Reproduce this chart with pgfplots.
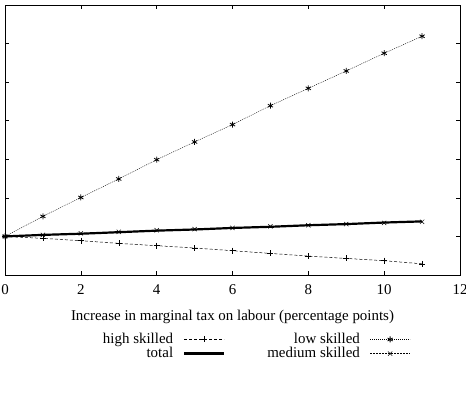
\documentclass[border=0pt]{standalone}
\usepackage{fontspec}
\setmainfont{Liberation Serif}
\usepackage{pgfplots}
\pgfplotsset{compat=1.18}
\begin{document}
\fontsize{15}{17}\selectfont
\begin{tikzpicture}
\begin{axis}[
  at={(0,0)}, anchor=south west,
  width=455bp, height=270bp, scale only axis,
  xmin=0, xmax=12, ymin=-1, ymax=6,
  xtick={0,2,...,12}, ytick={-1,0,...,6}, yticklabels={},
  tick pos=both, tick align=inside, major tick length=4bp,
  axis line style={line width=0.8bp},
  tick style={line width=0.6bp, black},
  /pgf/number format/assume math mode=true,
  xticklabel style={yshift=-4bp},
  xlabel={Increase in marginal tax on labour (percentage points)},
  xlabel style={yshift=-6bp},
  legend columns=2,
  legend plot pos=right,
  legend cell align=right,
  legend image code/.code={\draw[mark repeat=2,mark phase=2,#1] plot coordinates {(0bp,0bp) (20bp,0bp) (40bp,0bp)};},
  legend style={draw=none, fill=none, at={(axis description cs:0.204,-0.2)}, anchor=north west,
    row sep=-2.5bp, /tikz/every odd column/.append style={column sep=8bp},
    /tikz/every even column/.append style={column sep=40bp}},
]
\addplot[black, line width=0.5bp, dash pattern=on 3bp off 2bp, mark=+, mark size=3bp, mark options={solid}] coordinates {
(0,0) (1,-0.05) (2,-0.11) (3,-0.18) (4,-0.24) (5,-0.30) (6,-0.37) (7,-0.44) (8,-0.51) (9,-0.57) (10,-0.63) (11,-0.71)};
\addlegendentry{high skilled}
\addplot[black, line width=0.4bp, dash pattern=on 1bp off 1bp, mark=asterisk, mark size=3bp, mark options={solid, line width=0.8bp}] coordinates {
(0,0) (1,0.52) (2,1.01) (3,1.49) (4,1.99) (5,2.45) (6,2.90) (7,3.39) (8,3.84) (9,4.29) (10,4.75) (11,5.19)};
\addlegendentry{low skilled}
\addplot[black, line width=2.2bp, no marks] coordinates {
(0,0) (1,0.04) (2,0.07) (3,0.11) (4,0.15) (5,0.18) (6,0.22) (7,0.25) (8,0.29) (9,0.32) (10,0.36) (11,0.39)};
\addlegendentry{total}
\addplot[black, line width=0.5bp, dash pattern=on 1.5bp off 1.5bp, mark=x, mark size=3bp, mark options={solid}] coordinates {
(0,0) (1,0.04) (2,0.08) (3,0.12) (4,0.16) (5,0.19) (6,0.22) (7,0.26) (8,0.29) (9,0.32) (10,0.35) (11,0.38)};
\addlegendentry{medium skilled}
\end{axis}
\pgfresetboundingbox
\useasboundingbox (-5bp,-122bp) rectangle (461bp,5bp+270bp);
\end{tikzpicture}
\end{document}
